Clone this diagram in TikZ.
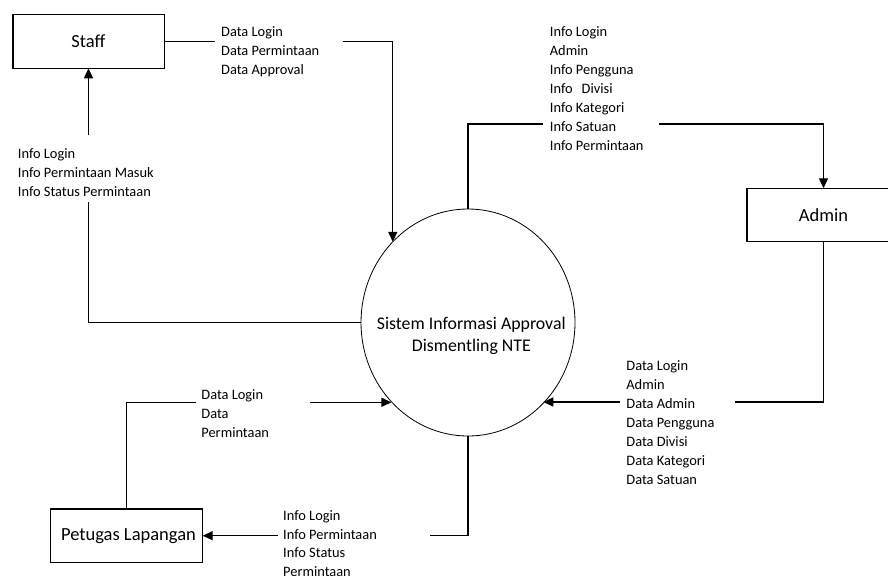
\documentclass[tikz,border=0pt]{standalone}
\usepackage{fontspec}
\setmainfont{Carlito}
\usetikzlibrary{arrows.meta,shapes.geometric}
\begin{document}
\begin{tikzpicture}[x=1pt,y=-1pt,
  ent/.style={draw, line width=1.3pt, inner sep=0pt, outer sep=0pt, font=\fontsize{18.5}{22}\selectfont},
  proc/.style={draw, ellipse, line width=0.8pt, minimum width=214pt, minimum height=227pt, inner sep=0pt, outer sep=0pt},
  flow/.style={line width=1.3pt},
  arr/.style={flow, -{Triangle[length=10pt,width=9pt]}},
  lbl/.style={anchor=north west, inner sep=0pt, align=left, font=\fontsize{14.4}{19}\selectfont}]
\useasboundingbox (0,0) rectangle (888,579);
\clip (0,0) rectangle (888,579);
\fill[white] (0,0) rectangle (888,579);

% entities and process
\node[ent, minimum width=151.3pt, minimum height=54pt] (staff) at (88.5,41.3) {Staff};
\node[ent, minimum width=153pt, minimum height=53.4pt] (admin) at (823.5,215) {Admin};
\node[ent, minimum width=152pt, minimum height=53.3pt] (pet) at (126.7,535.7) {\hspace{3.6pt}Petugas Lapangan};
\node[proc] (c) at (468,322.5) {};
\node[align=center, inner sep=0pt, font=\fontsize{17.8}{21.7}\selectfont] (ct) at (471.3,336.3)
  {\strut Sistem Informasi Approval\\\strut Dismentling NTE};

% gap coordinates
\coordinate (g1a) at (215,41.3);   \coordinate (g1b) at (343,41.3);
\coordinate (g2a) at (88.5,135);   \coordinate (g2b) at (88.5,201.7);
\coordinate (g3a) at (543,124);    \coordinate (g3b) at (659,124);
\coordinate (g4a) at (735,402);    \coordinate (g4b) at (620,402);
\coordinate (g5a) at (195.7,402.3);\coordinate (g5b) at (310,402.3);
\coordinate (g6a) at (430,535.7);  \coordinate (g6b) at (277.7,535.7);

% Staff -> process
\draw[flow] (staff.east) -- (g1a);
\draw[arr] (g1b) -| (c.133.6);
% process -> Staff
\draw[flow] (c.west) -| (g2b);
\draw[arr] (g2a) -- (staff.south);
% process -> Admin
\draw[flow] (c.north) |- (g3a);
\draw[arr] (g3b) -| (admin.north);
% Admin -> process
\draw[flow] (admin.south) |- (g4a);
\draw[arr] (g4b) -- (g4b -| c.313.9);
% Petugas -> process
\draw[flow] (pet.north) |- (g5a);
\draw[arr] (g5b) -- (g5b -| c.226.4);
% process -> Petugas
\draw[flow] (c.south) |- (g6a);
\draw[arr] (g6b) -- (pet.east);

% labels
\node[lbl] (l1) at (221,23.3) {\strut Data Login\\\strut Data Permintaan\\\strut Data Approval};
\node[lbl] (l2) at (17.7,144.6) {\strut Info Login\\\strut Info Permintaan Masuk\\\strut Info Status Permintaan};
\node[lbl] (l3) at (549.7,23.3) {\strut Info Login\\\strut Admin\\\strut Info Pengguna\\\strut Info\hspace{9pt}Divisi\\\strut Info Kategori\\\strut Info Satuan\\\strut Info Permintaan};
\node[lbl] (l4) at (626.2,357) {\strut Data Login\\\strut Admin\\\strut Data Admin\\\strut Data Pengguna\\\strut Data Divisi\\\strut Data Kategori\\\strut Data Satuan};
\node[lbl] (l5) at (201.2,385.6) {\strut Data Login\\\strut Data\\\strut Permintaan};
\node[lbl, font=\fontsize{14.4}{18.7}\selectfont] (l6) at (283,507) {\strut Info Login\\\strut Info Permintaan\\\strut Info Status\\\strut Permintaan};
\end{tikzpicture}
\end{document}
